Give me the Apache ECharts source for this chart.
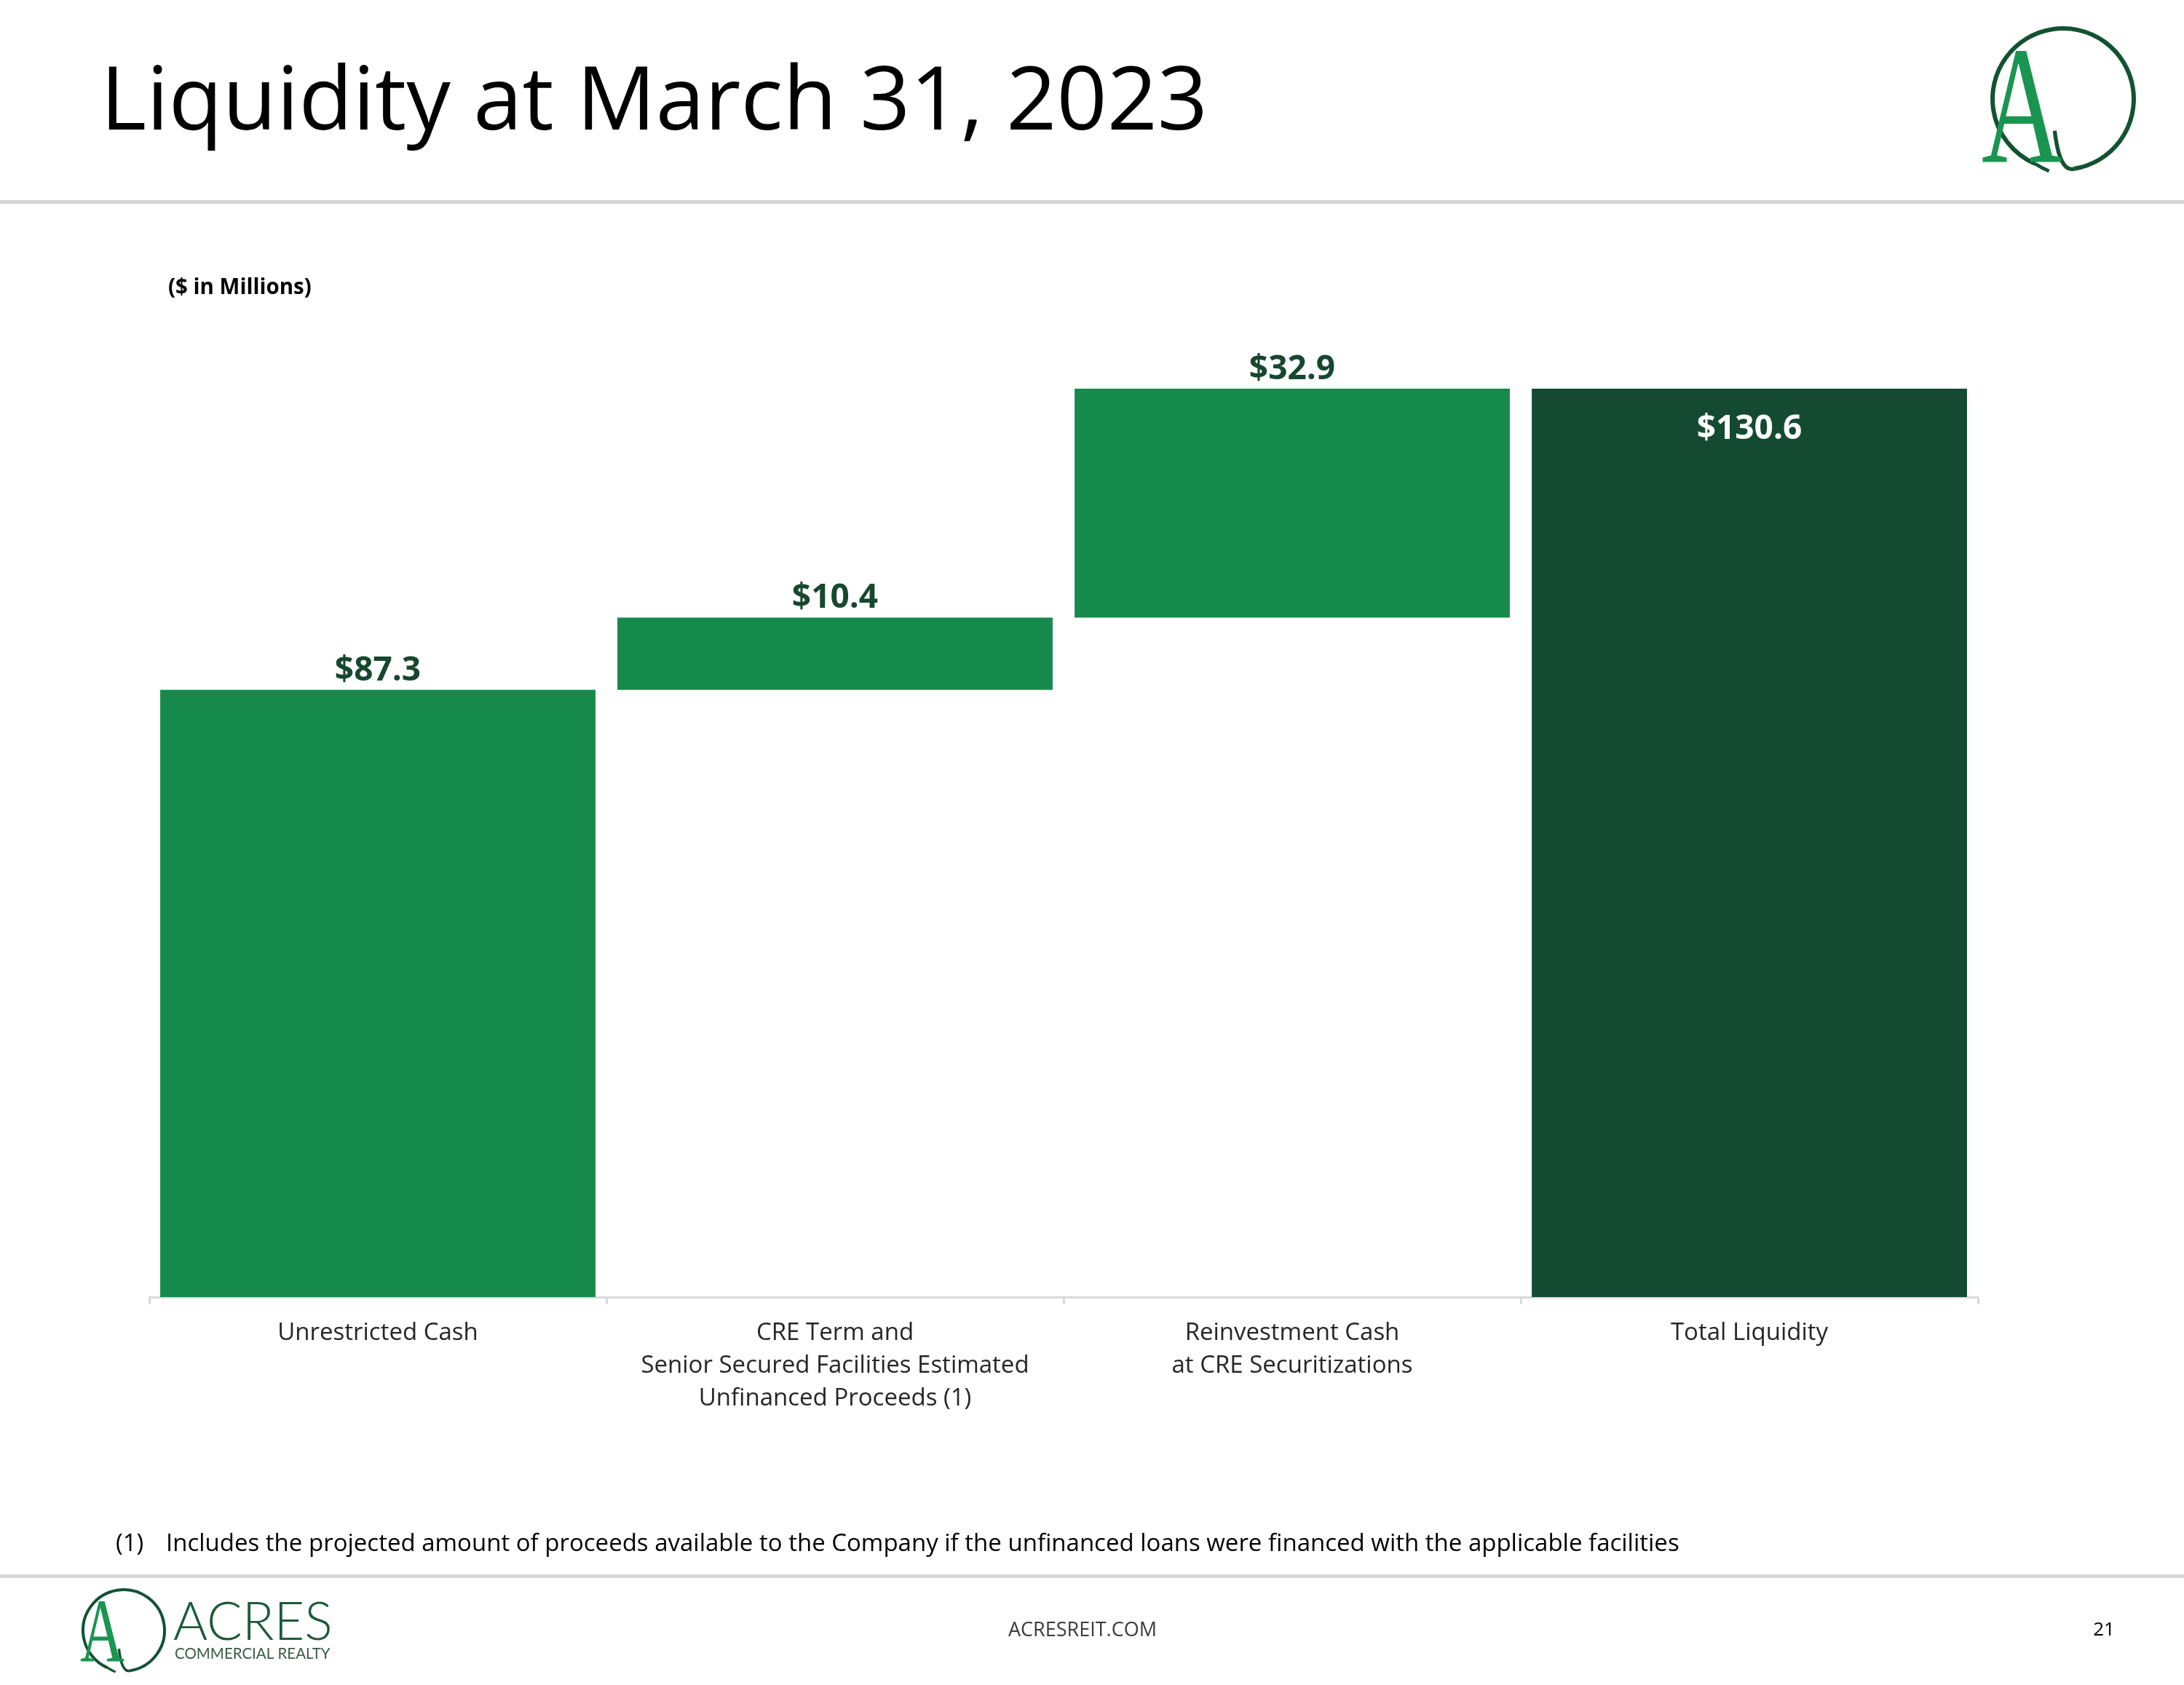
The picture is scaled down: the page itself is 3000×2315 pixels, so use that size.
<!DOCTYPE html>
<html>
<head>
<meta charset="utf-8">
<style>
  html, body { margin: 0; padding: 0; background: #ffffff; }
  #chart { width: 3000px; height: 2315px; }
</style>
<script src="https://cdn.jsdelivr.net/npm/echarts@6/dist/echarts.min.js"></script>
</head>
<body>
<div id="chart"></div>
<script>
// ---- Data ----
const categories = [
  'Unrestricted Cash',
  'CRE Term and\nSenior Secured Facilities Estimated\nUnfinanced Proceeds (1)',
  'Reinvestment Cash\nat CRE Securitizations',
  'Total Liquidity'
];
const values = [87.3, 10.4, 32.9, 130.6];
const isTotal = [false, false, false, true];
const titleText = 'Liquidity at March 31, 2023';
const unitText = '($ in Millions)';
const footnoteMark = '(1)';
const footnoteText = 'Includes the projected amount of proceeds available to the Company if the unfinanced loans were financed with the applicable facilities';
const footerSite = 'ACRESREIT.COM';
const pageNumber = '21';

// ---- Waterfall bases derived from values ----
const bases = [];
let running = 0;
values.forEach((v, i) => {
  if (isTotal[i]) { bases.push(0); }
  else { bases.push(running); running += v; }
});

const FONT = '"Open Sans", "Noto Sans", sans-serif';
const LIGHT = '#158A4A';
const DARK = '#134A31';
const LABEL = '#17472F';

const chart = echarts.init(document.getElementById('chart'), null, { renderer: 'canvas' });

function logo(cx, cy, r, lw, aSize, aX, aY, aScale) {
  return [
    {
      type: 'arc',
      shape: { cx: cx, cy: cy, r: r, startAngle: Math.PI * 0.45, endAngle: Math.PI * 0.63, clockwise: false },
      style: { stroke: '#125232', lineWidth: lw, fill: null }
    },
    {
      type: 'bezierCurve',
      shape: {
        x1: cx + r * Math.cos(Math.PI * 0.45), y1: cy + r * Math.sin(Math.PI * 0.45),
        cpx1: cx - r * 0.05, cpy1: cy + r * 1.05,
        x2: cx - r * 0.12, y2: cy + r * 0.45
      },
      style: { stroke: '#125232', lineWidth: lw * 0.9, fill: null }
    },
    {
      type: 'bezierCurve',
      shape: {
        x1: cx + r * Math.cos(Math.PI * 0.63), y1: cy + r * Math.sin(Math.PI * 0.63),
        cpx1: cx - r * 0.3, cpy1: cy + r * 0.98,
        x2: cx - r * 0.2, y2: cy + r * 1.02
      },
      style: { stroke: '#125232', lineWidth: lw * 0.8, fill: null }
    },
    {
      type: 'text',
      x: aX, y: aY,
      scaleX: aScale, scaleY: 1,
      style: {
        text: 'A', x: 0, y: 0,
        font: 'normal ' + aSize + 'px "Liberation Serif", "DejaVu Serif", serif',
        fill: '#1A9550',
        textAlign: 'left', align: 'left',
        textVerticalAlign: 'bottom', verticalAlign: 'bottom'
      }
    }
  ];
}

const graphics = [
  // Title
  { type: 'text', style: { text: titleText, x: 138, y: 144, font: 'normal 121px ' + FONT, fill: '#000000',
      textAlign: 'left', align: 'left', textVerticalAlign: 'middle', verticalAlign: 'middle' } },
  // Top separator
  { type: 'rect', shape: { x: 0, y: 275, width: 3000, height: 5 }, style: { fill: '#D6D6D6' } },
  // Unit note
  { type: 'text', style: { text: unitText, x: 231, y: 396, font: 'bold 29.5px ' + FONT, fill: '#000000',
      textAlign: 'left', align: 'left', textVerticalAlign: 'middle', verticalAlign: 'middle' } },
  // Footnote
  { type: 'text', style: { text: footnoteMark, x: 159, y: 2122, font: 'normal 33px ' + FONT, fill: '#000000',
      textAlign: 'left', align: 'left', textVerticalAlign: 'middle', verticalAlign: 'middle' } },
  { type: 'text', style: { text: footnoteText, x: 228, y: 2122, font: 'normal 33px ' + FONT, fill: '#000000',
      textAlign: 'left', align: 'left', textVerticalAlign: 'middle', verticalAlign: 'middle' } },
  // Bottom separator
  { type: 'rect', shape: { x: 0, y: 2163, width: 3000, height: 5 }, style: { fill: '#D6D6D6' } },
  // Footer texts
  { type: 'text', style: { text: footerSite, x: 1487, y: 2240, font: 'normal 27px ' + FONT, fill: '#3A3A3A',
      textAlign: 'center', align: 'center', textVerticalAlign: 'middle', verticalAlign: 'middle' } },
  { type: 'text', style: { text: pageNumber, x: 2890, y: 2240, font: 'normal 26px ' + FONT, fill: '#000000',
      textAlign: 'center', align: 'center', textVerticalAlign: 'middle', verticalAlign: 'middle' } },
  // Footer logo wordmark
  { type: 'text', style: { text: 'ACRES', x: 238, y: 2230, font: '300 72px Lato, ' + FONT, fill: '#1B5A36',
      textAlign: 'left', align: 'left', textVerticalAlign: 'middle', verticalAlign: 'middle' } },
  { type: 'text', style: { text: 'COMMERCIAL REALTY', x: 240, y: 2272, font: 'normal 20.5px Lato, ' + FONT, fill: '#3C5A47',
      textAlign: 'left', align: 'left', textVerticalAlign: 'middle', verticalAlign: 'middle' } }
].concat(
  logo(2834, 136, 97, 6, 232, 2722, 278, 0.66),
  logo(170, 2240, 56, 4, 124, 110, 2312, 0.68)
);

const option = {
  backgroundColor: '#ffffff',
  animation: false,
  grid: { left: 205, right: 283, top: 534, bottom: 533, containLabel: false },
  xAxis: {
    type: 'category',
    data: categories,
    axisLine: { show: true, lineStyle: { color: '#D9D9D9', width: 3 } },
    axisTick: { show: true, length: 10, lineStyle: { color: '#D9D9D9', width: 3 } },
    axisLabel: { interval: 0, color: '#262626', fontSize: 33, lineHeight: 45, margin: 27, fontFamily: FONT }
  },
  yAxis: {
    type: 'value', min: 0, max: Math.max.apply(null, values),
    show: false, splitLine: { show: false }
  },
  series: [
    {
      name: 'base', type: 'bar', stack: 'w', silent: true,
      barCategoryGap: '4.8%',
      itemStyle: { color: 'rgba(0,0,0,0)' },
      data: bases
    },
    {
      name: 'value', type: 'bar', stack: 'w',
      barCategoryGap: '4.8%',
      data: values.map((v, i) => ({
        value: v,
        itemStyle: { color: isTotal[i] ? DARK : LIGHT },
        label: isTotal[i]
          ? { show: true, position: 'insideTop', distance: 33, color: '#ffffff' }
          : { show: true, position: 'top', distance: 3, color: LABEL }
      })),
      label: {
        show: true, fontSize: 46, fontWeight: 'bold', fontFamily: FONT,
        formatter: p => '$' + p.value.toFixed(1)
      }
    }
  ],
  graphic: graphics
};

chart.setOption(option);
</script>
</body>
</html>
